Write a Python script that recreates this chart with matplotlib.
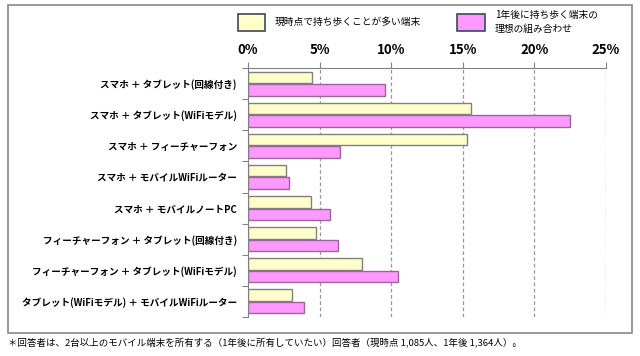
import numpy as np
import matplotlib
matplotlib.use("Agg")
import matplotlib.pyplot as plt
from matplotlib.patches import Rectangle
from matplotlib.ticker import FixedLocator

plt.rcParams['font.family'] = ['Noto Sans CJK JP', 'DejaVu Sans']

categories = [
    "スマホ ＋ タブレット(回線付き)",
    "スマホ ＋ タブレット(WiFiモデル)",
    "スマホ ＋ フィーチャーフォン",
    "スマホ ＋ モバイルWiFiルーター",
    "スマホ ＋ モバイルノートPC",
    "フィーチャーフォン ＋ タブレット(回線付き)",
    "フィーチャーフォン ＋ タブレット(WiFiモデル)",
    "タブレット(WiFiモデル) ＋ モバイルWiFiルーター",
]
now_share = [4.45, 15.6, 15.3, 2.65, 4.4, 4.75, 7.95, 3.1]
ideal_share = [9.6, 22.5, 6.45, 2.85, 5.7, 6.3, 10.45, 3.9]
x_ticks = [0, 5, 10, 15, 20, 25]
legend_labels = ["現時点で持ち歩くことが多い端末", "1年後に持ち歩く端末の\n理想の組み合わせ"]
footnote = "＊回答者は、2台以上のモバイル端末を所有する（1年後に所有していたい）回答者（現時点 1,085人、1年後 1,364人）。"

fig = plt.figure(figsize=(6.4, 3.56), dpi=100)
ax = fig.add_axes([248 / 640, 1 - 317 / 356, (606 - 248) / 640, (317 - 68) / 356])

y = np.arange(len(categories)) + 0.5
h = 0.37
ax.barh(y - 0.2, now_share, height=h, color='#FFFFCC', edgecolor='#808080', linewidth=1.0)
ax.barh(y + 0.2, ideal_share, height=h, color='#FF99FF', edgecolor='#996699', linewidth=1.0)

ax.set_xlim(0, 25)
ax.set_ylim(len(categories), 0)
ax.xaxis.tick_top()
ax.set_xticks(x_ticks)
ax.set_xticklabels([f"{t}%" for t in x_ticks], fontsize=9.5, fontweight='bold')
ax.tick_params(axis='x', direction='out', length=4, color='#808080', pad=4)
for t in x_ticks[1:]:
    ax.axvline(t, color='#999999', linestyle=(0, (3, 2)), linewidth=0.9, zorder=0)

ax.yaxis.set_major_locator(FixedLocator(np.arange(len(categories) + 1)))
ax.yaxis.set_minor_locator(FixedLocator(y))
ax.set_yticklabels([])
ax.set_yticklabels(categories, minor=True, fontsize=6.9, fontweight='bold')
ax.tick_params(axis='y', which='major', direction='out', length=4, color='#808080')
ax.tick_params(axis='y', which='minor', length=0, pad=8)

for s in ['right', 'bottom']:
    ax.spines[s].set_visible(False)
for s in ['top', 'left']:
    ax.spines[s].set_color('#808080')

# outer frame
fig.patches.append(Rectangle((8 / 640, 1 - 333 / 356), (632 - 8) / 640, (333 - 5) / 356,
                             transform=fig.transFigure, fill=False,
                             edgecolor='#888888', linewidth=1.2))

# legend boxes
fig.patches.append(Rectangle((238 / 640, 1 - 31 / 356), 27 / 640, 17 / 356,
                             transform=fig.transFigure, facecolor='#FFFFCC',
                             edgecolor='#3A4A55', linewidth=1.2))
fig.text(275 / 640, 1 - 22 / 356, legend_labels[0], fontsize=7, va='center')
fig.patches.append(Rectangle((457 / 640, 1 - 31 / 356), 28 / 640, 17 / 356,
                             transform=fig.transFigure, facecolor='#FF99FF',
                             edgecolor='#3A4A55', linewidth=1.2))
fig.text(495 / 640, 1 - 22 / 356, legend_labels[1], fontsize=7, va='center',
         linespacing=1.4)

fig.text(8 / 640, 1 - 343 / 356, footnote, fontsize=6.8, va='center')

fig.savefig("out.png", dpi=100)
